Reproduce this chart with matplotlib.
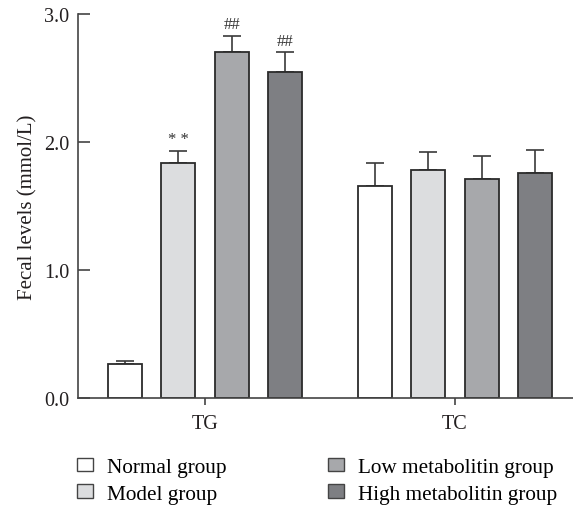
import numpy as np
import matplotlib
matplotlib.use('Agg')
import matplotlib.pyplot as plt
from matplotlib.patches import Patch

plt.rcParams['font.family'] = ['Liberation Serif', 'DejaVu Serif']

categories = ['TG', 'TC']
groups = ['Normal group', 'Model group', 'Low metabolitin group', 'High metabolitin group']
means = {
	'Normal group': [0.27, 1.66],
	'Model group': [1.84, 1.785],
	'Low metabolitin group': [2.70, 1.71],
	'High metabolitin group': [2.55, 1.76],
}
errors = {
	'Normal group': [0.025, 0.18],
	'Model group': [0.09, 0.135],
	'Low metabolitin group': [0.13, 0.18],
	'High metabolitin group': [0.15, 0.18],
}
marks = {
	'Model group': ['* *', ''],
	'Low metabolitin group': ['##', ''],
	'High metabolitin group': ['##', ''],
}
colors = ['#ffffff', '#dcdddf', '#a7a8ab', '#7e7f83']
edge = '#2b2b2b'

fig = plt.figure(figsize=(5.73, 5.06), dpi=100)
ax = fig.add_axes([0.136, 0.2105, 0.864, 0.76])

x = np.arange(len(categories))
step = 0.214
width = 0.136
for i, g in enumerate(groups):
	pos = x + (i - 1.5) * step
	ax.bar(pos, means[g], width, color=colors[i], edgecolor=edge, linewidth=1.3, zorder=2)
	ax.errorbar(pos, means[g], yerr=[np.zeros(len(categories)), errors[g]], fmt='none',
				ecolor='#3a3a3a', elinewidth=1.2, capsize=6.8, capthick=1.2, zorder=1)
	for j, m in enumerate(marks.get(g, ['', ''])):
		if m:
			ax.text(pos[j], means[g][j] + errors[g][j] + 0.03, m, ha='center', va='bottom',
					fontsize=12, color='#333333')

ax.set_xlim(-0.508, 1.472)
ax.set_ylim(0, 3.0)
ax.set_yticks([0, 1, 2, 3])
ax.set_yticklabels(['0.0', '1.0', '2.0', '3.0'])
ax.set_xticks(x)
ax.set_xticklabels(categories)
ax.set_ylabel('Fecal levels (mmol/L)', fontsize=15, color='#231f20', labelpad=5)

for s in ['top', 'right']:
	ax.spines[s].set_visible(False)
for s in ['left', 'bottom']:
	ax.spines[s].set_color('#444444')
	ax.spines[s].set_linewidth(1.2)
ax.tick_params(axis='y', direction='in', length=8.6, width=1.2, color='#444444',
			   labelsize=14.5, labelcolor='#231f20', pad=6)
ax.tick_params(axis='x', direction='out', length=5, width=1.2, color='#444444',
			   labelsize=14.5, labelcolor='#231f20', pad=6)

handles = [Patch(facecolor=c, edgecolor='#444444', linewidth=1.0) for c in colors]
fig.legend(handles, groups, ncol=2, loc='upper left', bbox_to_anchor=(0.134, 0.093),
		   frameon=False, fontsize=15.3, handlelength=0.75, handleheight=0.6, handletextpad=0.65,
		   columnspacing=4.8, labelspacing=0.34, borderpad=0, borderaxespad=0)

fig.savefig('out.png', dpi=100)
